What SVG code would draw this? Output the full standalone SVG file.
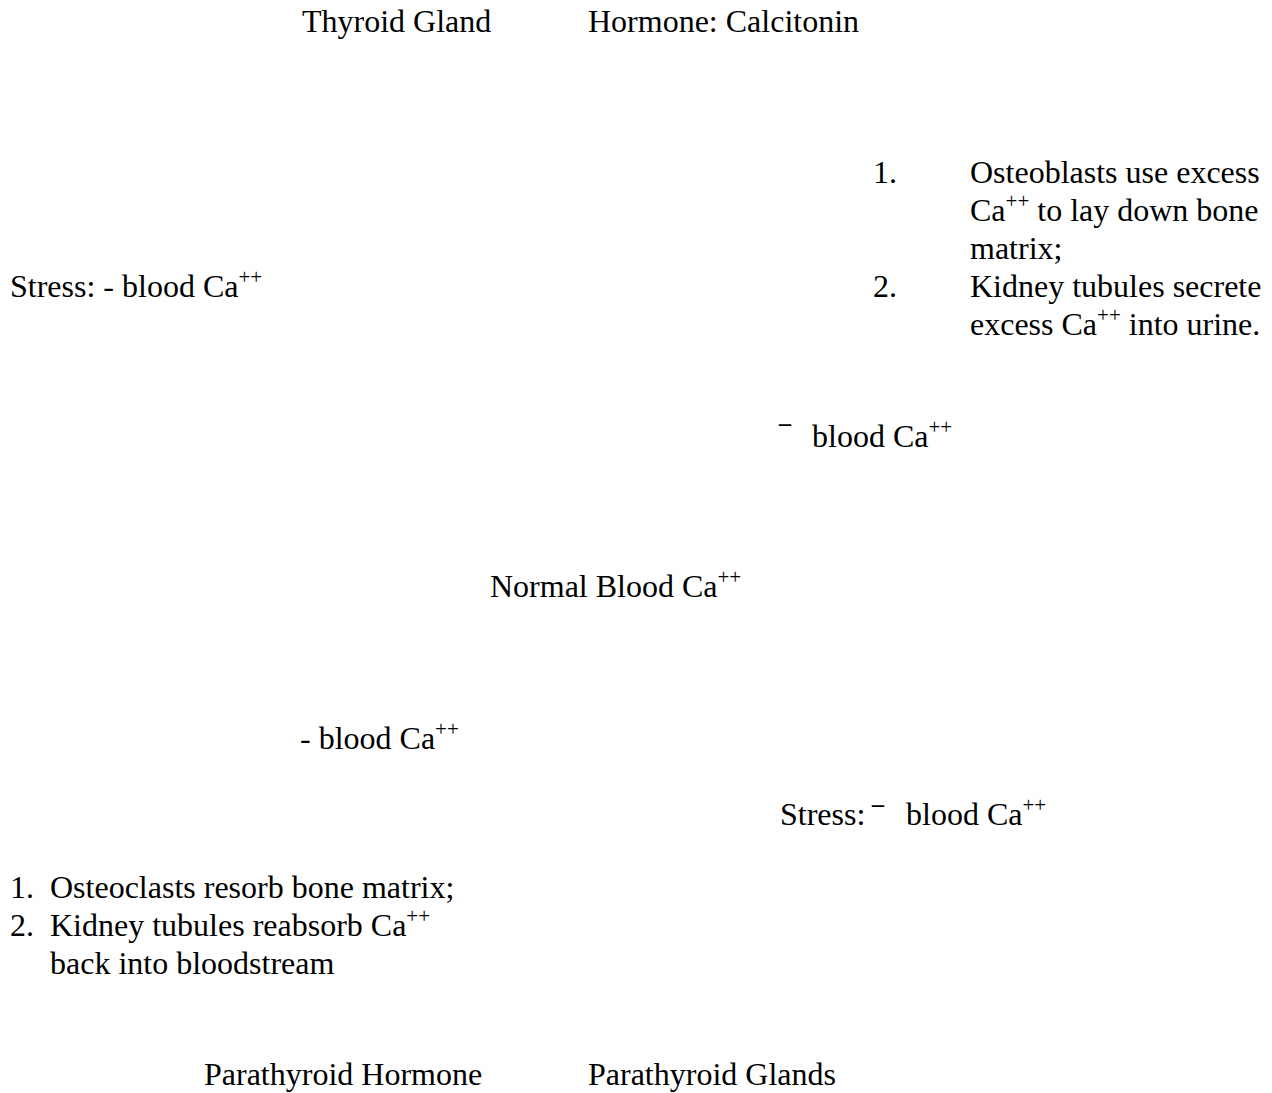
<svg xmlns="http://www.w3.org/2000/svg" width="1272" height="1093" viewBox="0 0 1272 1093">
<style>
text{font-family:"Liberation Serif","Times New Roman",serif;font-size:32px;fill:#000}
.sup{font-size:21px}
.bar{font-size:24px;font-weight:bold}
</style>
<rect width="1272" height="1093" fill="#fff"/>
<g id="connectors"/>
<g id="thyroid-gland"><text x="302" y="32">Thyroid Gland</text></g>
<g id="calcitonin"><text x="588" y="32">Hormone: Calcitonin</text></g>
<g id="calcitonin-effects">
<text x="873" y="183">1.</text>
<text x="970" y="183">Osteoblasts use excess</text>
<text x="970" y="221">Ca<tspan class="sup" dy="-13">++</tspan><tspan dy="13"> to lay down bone</tspan></text>
<text x="970" y="259">matrix;</text>
<text x="873" y="297">2.</text>
<text x="970" y="297">Kidney tubules secrete</text>
<text x="970" y="335">excess Ca<tspan class="sup" dy="-13">++</tspan><tspan dy="13"> into urine.</tspan></text>
</g>
<g id="stress-high"><text x="10" y="297">Stress: - blood Ca<tspan class="sup" dy="-13">++</tspan></text></g>
<g id="decrease-blood-ca"><text class="bar" x="779" y="442">¯</text><text x="812" y="447">blood Ca<tspan class="sup" dy="-13">++</tspan></text></g>
<g id="normal-blood-ca"><text x="490" y="597">Normal Blood Ca<tspan class="sup" dy="-13">++</tspan></text></g>
<g id="increase-blood-ca"><text x="300" y="749">- blood Ca<tspan class="sup" dy="-13">++</tspan></text></g>
<g id="stress-low"><text x="780" y="825">Stress:</text><text class="bar" x="872" y="823">¯</text><text x="906" y="825">blood Ca<tspan class="sup" dy="-13">++</tspan></text></g>
<g id="pth-effects">
<text x="10" y="898">1.</text>
<text x="50" y="898">Osteoclasts resorb bone matrix;</text>
<text x="10" y="936">2.</text>
<text x="50" y="936">Kidney tubules reabsorb Ca<tspan class="sup" dy="-13">++</tspan></text>
<text x="50" y="974">back into bloodstream</text>
</g>
<g id="parathyroid-hormone"><text x="204" y="1085">Parathyroid Hormone</text></g>
<g id="parathyroid-glands"><text x="588" y="1085">Parathyroid Glands</text></g>
</svg>
